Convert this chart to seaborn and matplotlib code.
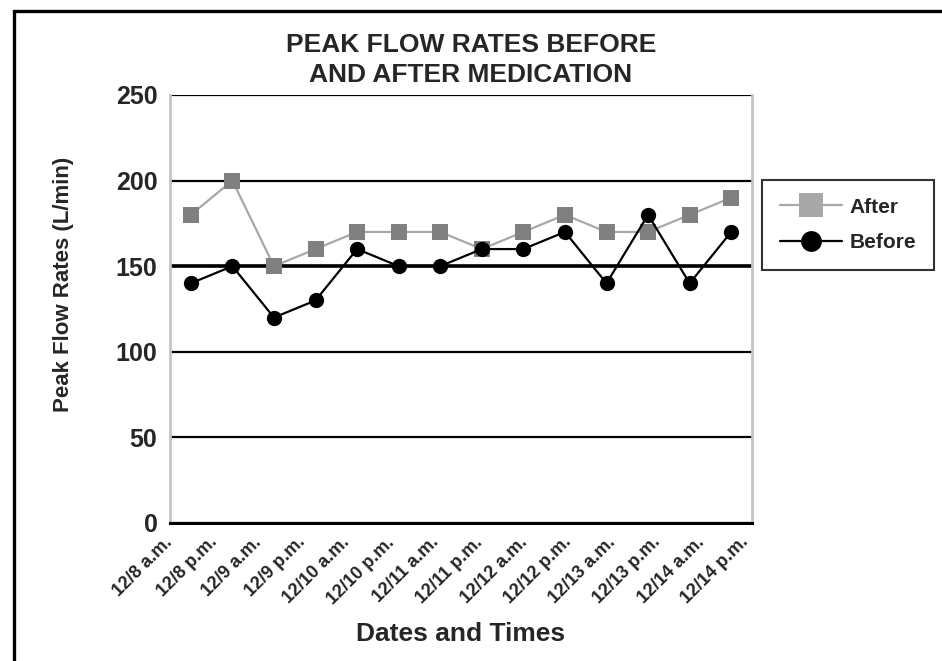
import numpy as np
import pandas as pd
import matplotlib
matplotlib.use("Agg")
import matplotlib.pyplot as plt
import seaborn as sns
from matplotlib.patches import Rectangle
from matplotlib.lines import Line2D

# === DATA ===
times = ["12/8 a.m.", "12/8 p.m.", "12/9 a.m.", "12/9 p.m.", "12/10 a.m.", "12/10 p.m.",
         "12/11 a.m.", "12/11 p.m.", "12/12 a.m.", "12/12 p.m.", "12/13 a.m.", "12/13 p.m.",
         "12/14 a.m.", "12/14 p.m."]
after = [180, 200, 150, 160, 170, 170, 170, 160, 170, 180, 170, 170, 180, 190]
before = [140, 150, 120, 130, 160, 150, 150, 160, 160, 170, 140, 180, 140, 170]
y_ticks = [0, 50, 100, 150, 200, 250]

# === STYLE ===
sns.set_style("white")
plt.rcParams['font.family'] = ['Liberation Sans', 'DejaVu Sans']
plt.rcParams['font.weight'] = 'bold'

df = pd.DataFrame({"pos": np.arange(len(times)), "After": after, "Before": before})

fig = plt.figure(figsize=(9.42, 6.61), dpi=100)
ax = fig.add_axes([0.1805, 0.2088, 0.6178, 0.6475])

# === LINES ===
sns.lineplot(data=df, x="pos", y="After", ax=ax, color="#a8a8a8", lw=1.6,
             marker="s", markersize=12, markerfacecolor="#808080",
             markeredgewidth=0, zorder=3)
sns.lineplot(data=df, x="pos", y="Before", ax=ax, color="black", lw=1.6,
             marker="o", markersize=11, markerfacecolor="black",
             markeredgewidth=0, zorder=4)

# === AXES ===
ax.set_xlim(-0.5, len(times) - 0.5)
ax.set_ylim(0, 250)
ax.set_yticks(y_ticks)
ax.set_yticklabels([str(v) for v in y_ticks], fontsize=18, fontweight="bold")
ax.tick_params(axis="y", length=0, pad=9)

# labels in the original are spread a little wider than the categories
ax.set_xticks(np.linspace(-0.5, 13.36, len(times)))
ax.set_xticks(np.arange(len(times) + 1) - 0.5, minor=True)
ax.set_xticklabels(times, fontsize=13, fontweight="bold", rotation=45,
                   ha="right", va="center", rotation_mode="anchor")
ax.tick_params(axis="x", which="major", length=0, pad=12)
ax.tick_params(axis="x", which="minor", length=6, width=2, color="black", direction="out")

ax.grid(axis="y", color="black", lw=1.6)
ax.grid(axis="x", visible=False)
ax.axhline(150, color="black", lw=2.6, zorder=2)
ax.set_axisbelow(True)

for side in ["left", "right"]:
    ax.spines[side].set_color("#c4c4c4")
    ax.spines[side].set_linewidth(2)
ax.spines["top"].set_visible(False)
ax.spines["bottom"].set_color("black")
ax.spines["bottom"].set_linewidth(2.2)

ax.set_xlabel("Dates and Times", fontsize=19, fontweight="bold")
ax.xaxis.set_label_coords(0.5, -0.232)
ax.set_ylabel("Peak Flow Rates (L/min)", fontsize=16, fontweight="bold")
ax.yaxis.set_label_coords(-0.165, 0.558)
ax.set_title("PEAK FLOW RATES BEFORE\nAND AFTER MEDICATION", fontsize=19,
             fontweight="bold", pad=9, linespacing=1.35, x=0.517)

# === LEGEND ===
handles = [
    Line2D([0], [0], color="#a8a8a8", lw=1.6, marker="s", markersize=17,
           markerfacecolor="#a8a8a8", markeredgewidth=0),
    Line2D([0], [0], color="black", lw=1.6, marker="o", markersize=15,
           markerfacecolor="black", markeredgewidth=0),
]
leg = fig.legend(handles, ["After", "Before"], loc="upper left",
                 bbox_to_anchor=(762 / 942, 1 - 180 / 661), fontsize=15,
                 frameon=True, fancybox=False, edgecolor="black",
                 handlelength=3.0, labelspacing=0.8, borderpad=0.85,
                 handletextpad=0.35, borderaxespad=0)
leg.get_frame().set_linewidth(1.5)
for t in leg.get_texts():
    t.set_fontweight("bold")

# === OUTER FRAME ===
fig.patches.append(Rectangle((14 / 942, -0.1), 1.2, 1.1 - 11 / 661,
                             transform=fig.transFigure, fill=False,
                             edgecolor="black", lw=2.4))

fig.savefig("out.png", dpi=100)
